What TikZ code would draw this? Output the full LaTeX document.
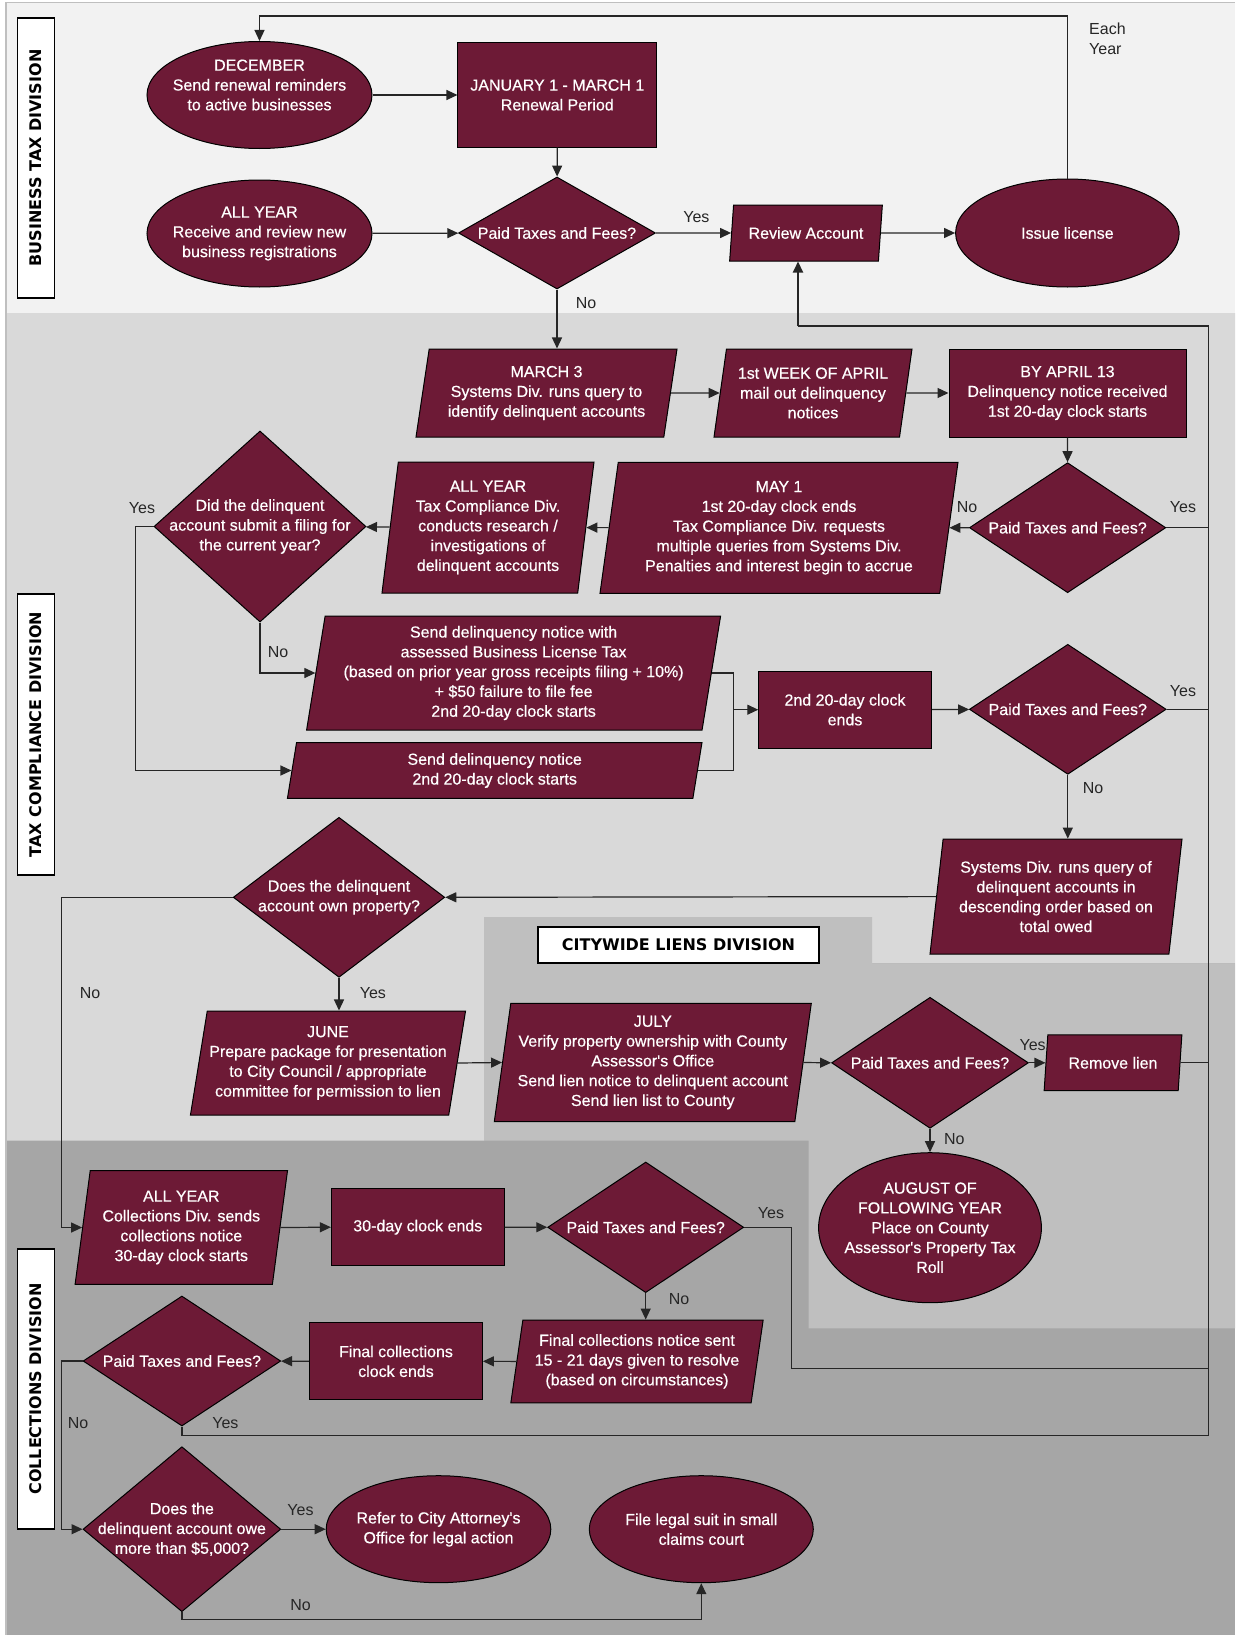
\documentclass[tikz,border=0pt]{standalone}
\usepackage{fontspec}
\setmainfont{Liberation Sans}
\newfontfamily\boxfam{Liberation Sans}[FakeBold=0.5]
\newfontfamily\divfont{DejaVu Sans}
\usetikzlibrary{shapes.geometric,arrows.meta}

\definecolor{wine}{HTML}{6D1A36}
\definecolor{bandtop}{HTML}{F2F2F2}
\definecolor{bandtax}{HTML}{D9D9D9}
\definecolor{bandlien}{HTML}{BFBFBF}
\definecolor{bandcol}{HTML}{A6A6A6}
\definecolor{ink}{HTML}{262626}

\newcommand\boxfont{\boxfam\fontsize{16}{19.8}\selectfont}

\tikzset{
  base/.style={draw=black, line width=1pt, fill=wine, text=white, align=center, font=\boxfont},
  txt/.style={text=white, align=center, font=\boxfont, inner sep=0pt},
  proc/.style 2 args={base, rectangle, minimum width=#1, minimum height=#2, inner sep=2pt},
  para/.style n args={3}{base, trapezium, trapezium left angle=#3, trapezium right angle=180-#3,
    trapezium stretches body, minimum width=#1, minimum height=#2, inner sep=2pt},
  oval/.style n args={3}{base, ellipse, minimum width=#1, minimum height=#2, inner sep=0pt,
    label={[txt]center:#3}},
  dia/.style n args={3}{base, diamond, minimum width=#1, minimum height=#2, inner sep=0pt,
    label={[txt]center:#3}},
  divlbl/.style={draw=black, line width=1.2pt, fill=white, inner sep=0pt,
    font=\divfont\fontsize{16}{19}\selectfont\bfseries},
  note/.style={text=ink, font=\fontsize{16}{19.8}\selectfont, inner sep=1pt},
  line/.style={draw=ink, line width=1.2pt},
  arr/.style={line, -{Triangle[length=11pt,width=10pt]}}
}

\begin{document}
\begin{tikzpicture}[x=1pt,y=-1pt]
\useasboundingbox (0,0) rectangle (1235,1635);

% division bands
\fill[bandcol] (6,2.7) rectangle (1235,1635);
\fill[bandtax] (6,313) -- (1235,313) -- (1235,963.3) -- (872,963.3) -- (872,917)
  -- (484,917) -- (484,1140.5) -- (6,1140.5) -- cycle;
\fill[bandlien] (484,917) -- (872,917) -- (872,963.3) -- (1235,963.3) -- (1235,1328.3)
  -- (808.6,1328.3) -- (808.6,1140.5) -- (484,1140.5) -- cycle;
\fill[bandtop] (6,2.7) rectangle (1235,313);
\draw[black!25, line width=1.3pt] (6,1635) -- (6,2.7) -- (1235,2.7);

\node[divlbl, rotate=90, minimum width=280, minimum height=36.4] (bizdiv) at (36,158) {BUSINESS TAX DIVISION};
\node[divlbl, rotate=90, minimum width=281, minimum height=36.4] (taxdiv) at (36,734.5) {TAX COMPLIANCE DIVISION};
\node[divlbl, rotate=90, minimum width=280, minimum height=36.4] (coldiv) at (36,1389) {COLLECTIONS DIVISION};
\node[divlbl, minimum width=281, minimum height=36] (liendiv) at (678.5,945) {CITYWIDE LIENS DIVISION};

% business tax division
\node[base, ellipse, minimum width=225, minimum height=107, inner sep=0pt,
  label={[txt, yshift=10pt]center:DECEMBER\\Send renewal reminders\\to active businesses}] (dec) at (259.5,95) {};
\node[proc={198.7}{104}] (jan) at (557.3,95) {JANUARY 1 - MARCH 1\\Renewal Period};
\node[oval={225}{107}{ALL YEAR\\Receive and review new\\business registrations}] (allyr) at (259.5,233.5) {};
\node[dia={197}{112}{Paid Taxes and Fees?}] (pay1) at (557,233) {};
\node[para={152.7}{56}{76}] (review) at (806,233) {Review Account};
\node[oval={223.6}{108}{Issue license}] (issue) at (1067.4,233) {};
\node[note, anchor=north west, align=left] (each) at (1088,22) {Each\\Year};

% tax compliance division
\node[para={261}{88}{77.2}] (march) at (546.5,393) {MARCH 3\\Systems Div. runs query to\\identify delinquent accounts};
\node[para={198}{88}{77.2}] (april) at (813,393) {1st WEEK OF APRIL\\mail out delinquency\\notices};
\node[proc={237}{88}] (by13) at (1067.5,393) {BY APRIL 13\\Delinquency notice received\\1st 20-day clock starts};
\node[dia={196.4}{130}{Paid Taxes and Fees?}] (pay2) at (1067.6,527.7) {};
\node[para={358}{131}{79.4}] (may1) at (779,527.8) {MAY 1\\1st 20-day clock ends\\Tax Compliance Div. requests\\multiple queries from Systems Div.\\Penalties and interest begin to accrue};
\node[para={212}{131}{80.5}] (tcyear) at (488,527.5) {ALL YEAR\\Tax Compliance Div.\\conducts research /\\investigations of\\delinquent accounts};
\node[dia={212}{191}{Did the delinquent\\account submit a filing for\\the current year?}] (filed) at (260,526.5) {};
\node[para={414}{114}{79.3}] (notice1) at (513.6,673) {Send delinquency notice with\\assessed Business License Tax\\(based on prior year gross receipts filing + 10\%)\\+ \$50 failure to file fee\\2nd 20-day clock starts};
\node[para={414.5}{55.6}{76.8}] (notice2) at (494.7,770.5) {Send delinquency notice\\2nd 20-day clock starts};
\node[proc={172.5}{77.3}] (clock2) at (845,709.7) {2nd 20-day clock\\ends};
\node[dia={196.8}{130}{Paid Taxes and Fees?}] (pay3) at (1067.8,709.3) {};
\node[para={252}{115}{80.1}] (query) at (1056,896.6) {Systems Div. runs query of\\delinquent accounts in\\descending order based on\\total owed};
\node[dia={211.5}{160}{Does the delinquent\\account own property?}] (owns) at (339,897.3) {};
\node[para={274.4}{104}{77.8}] (june) at (328,1063) {JUNE\\Prepare package for presentation\\to City Council / appropriate\\committee for permission to lien};

% citywide liens division
\node[para={317}{118.4}{80.4}] (july) at (652.8,1062.5) {JULY\\Verify property ownership with County\\Assessor's Office\\Send lien notice to delinquent account\\Send lien list to County};
\node[dia={196.8}{131}{Paid Taxes and Fees?}] (lienpay) at (930,1062.8) {};
\node[para={137.7}{55.7}{76.9}] (remove) at (1113,1062.8) {Remove lien};
\node[oval={222.8}{150}{AUGUST OF\\FOLLOWING YEAR\\Place on County\\Assessor's Property Tax\\Roll}] (august) at (930,1227.7) {};

% collections division
\node[para={212.4}{113.6}{79}] (colyear) at (181.3,1227.5) {ALL YEAR\\Collections Div. sends\\collections notice\\30-day clock starts};
\node[proc={172.8}{77}] (clock30) at (417.8,1227.2) {30-day clock ends};
\node[dia={196}{130.6}{Paid Taxes and Fees?}] (colpay) at (645.7,1227.3) {};
\node[para={252.3}{82.7}{78.4}] (final) at (637,1361.4) {Final collections notice sent\\15 - 21 days given to resolve\\(based on circumstances)};
\node[proc={172.8}{77.3}] (fclock) at (396,1361.3) {Final collections\\clock ends};
\node[dia={197.7}{130}{Paid Taxes and Fees?}] (fpay) at (181.9,1361) {};
\node[dia={197.7}{165}{Does the\\delinquent account owe\\more than \$5,000?}] (owe) at (181.9,1529.2) {};
\node[oval={224.6}{107}{Refer to City Attorney's\\Office for legal action}] (refer) at (438.5,1529.2) {};
\node[oval={224}{107}{File legal suit in small\\claims court}] (file) at (701.3,1529.2) {};

% yes / no labels
\node[note] (yes1) at (696.4,217) {Yes};
\node[note] (no1) at (586,303) {No};
\node[note] (no2) at (967,507.3) {No};
\node[note] (yes2) at (1183,507) {Yes};
\node[note] (yes3) at (142,508) {Yes};
\node[note] (no3) at (278,652.3) {No};
\node[note] (yes4) at (1183,690.7) {Yes};
\node[note] (no4) at (1093,788.3) {No};
\node[note] (no5) at (90,992.7) {No};
\node[note] (yes5) at (372.9,992.7) {Yes};
\node[note] (yes6) at (1032.6,1045) {Yes};
\node[note] (no6) at (954.4,1139.3) {No};
\node[note] (yes7) at (771,1212.7) {Yes};
\node[note] (no7) at (679,1299.3) {No};
\node[note] (no8) at (78,1422.7) {No};
\node[note] (yes8) at (225.4,1422.7) {Yes};
\node[note] (yes9) at (300.5,1510) {Yes};
\node[note] (no9) at (300.5,1605) {No};

% connectors
\coordinate (loop) at (259.5,16);
\coordinate (rtop) at (1208.7,326);
\coordinate (rbot) at (1208.7,1435.7);
\coordinate (rfoot) at (798,326);
\coordinate (merge) at (733.7,709.7);
\coordinate (cbend) at (791.2,1368.3);

\draw[arr] (dec) -- (jan);
\draw[arr] (jan) -- (pay1);
\draw[arr] (allyr) -- (pay1);
\draw[arr] (pay1) -- (review);
\draw[arr] (review) -- (issue);
\draw[arr] (issue.north) |- (loop) -- (dec.north);
\draw[arr] (pay1.south) -- (pay1.south |- march.north);
\draw[arr] (march) -- (april);
\draw[arr] (april) -- (by13);
\draw[arr] (by13) -- (pay2);
\draw[arr] (pay2) -- (may1);
\draw[arr] (may1) -- (tcyear);
\draw[arr] (tcyear) -- (filed);
\draw[arr] (filed.west) -- ++(-18,0) |- (notice2.west);
\draw[arr] (filed.south) |- (notice1.west);
\draw[line] (notice1.east) -| (merge) |- (notice2.east);
\draw[arr] (merge) -- (clock2);
\draw[arr] (clock2) -- (pay3);
\draw[arr] (pay3.south) -- (pay3.south |- query.north);
\draw[arr] (query.west) -- (owns.east);
\draw[arr] (owns.west) -- ++(-171.3,0) |- (colyear.west);
\draw[arr] (owns.south) -- (owns.south |- june.north);
\draw[arr] (june.east) -- (july.west);
\draw[arr] (july.east) -- (lienpay.west);
\draw[arr] (lienpay) -- (remove);
\draw[arr] (lienpay) -- (august);
\draw[arr] (colyear.east) -- (clock30.west);
\draw[arr] (clock30) -- (colpay);
\draw[arr] (colpay.south) -- (colpay.south |- final.north);
\draw[arr] (final.west) -- (fclock.east);
\draw[arr] (fclock) -- (fpay);
\draw[arr] (fpay.west) -- ++(-21,0) |- (owe.west);
\draw[arr] (owe) -- (refer);
\draw[arr] (owe.south) -- ++(0,7.6) -| (file.south);

% paid: back to review
\draw[line] (rbot) -- (rtop) -- (rfoot);
\draw[arr, line width=2pt] (rfoot) -- (rfoot |- review.south);
\draw[line] (pay2.east) -- (pay2.east -| rtop);
\draw[line] (pay3.east) -- (pay3.east -| rtop);
\draw[line] (remove.east) -- (remove.east -| rtop);
\draw[line] (colpay.east) -| (cbend) -- (cbend -| rtop);
\draw[line] (fpay.south) |- (rbot);
\end{tikzpicture}
\end{document}
